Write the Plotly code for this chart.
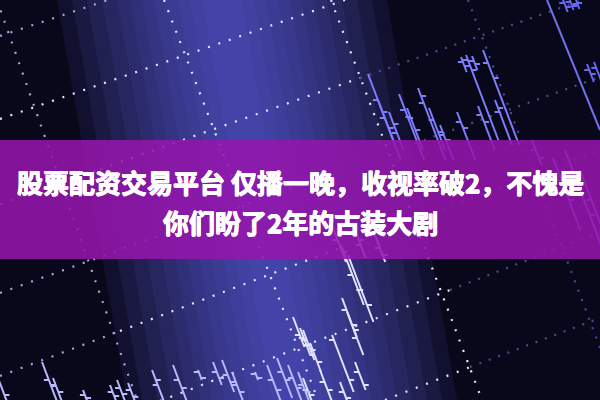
import plotly.graph_objects as go

# ---------------- data ----------------
# dotted perspective grid segments (x0, y0, x1, y1) in picture units
grid_bright = [(0, 119, 345, 0), (100, 169, 360, 78), (120, 331, 340, 248),
               (160, 401, 450, 290), (385, 400, 470, 367),
               (164, 0, 318, 400), (331, 0, 482, 400)]
grid_mid = [(0, 36, 108, 0), (0, 204, 100, 169), (0, 293, 330, 174),
            (0, 376, 120, 331), (-3, 0, 137, 400)]
grid_dim = [(360, 78, 580, 1), (330, 174, 600, 77), (340, 248, 600, 150),
            (450, 290, 600, 232), (470, 367, 600, 318), (468, 0, 620, 400)]

# candle groups: x at high end, high, low, open, close
up_x = [368, 378, 389, 399, 407, 418, 429, 440, 457, 461, 466, 472, 483, 478, 495, 532, 553, 565, 580]
up_high = [74, 100, 112, 94, 108, 88, 108, 125, 112, 57, 55, 56, 50, 106, 100, 140, 158, 150, 170]
up_low = [160, 160, 150, 160, 150, 160, 150, 160, 160, 72, 140, 70, 145, 150, 145, 165, 230, 255, 250]
up_open = [100, 118, 133, 110, 117, 103, 120, 135, 122, 62, 60, 61, 63, 115, 112, 150, 180, 190, 200]
up_close = [112, 128, 124, 118, 130, 96, 132, 140, 128, 66, 70, 64, 78, 122, 108, 158, 200, 215, 230]

corner_x = [562, 569, 576, 587, 594]
corner_high = [-3, -2, 0, 64, 62]
corner_low = [12, 10, 9, 82, 84]
corner_open = [3, 2, 4, 70, 68]
corner_close = [7, 6, 3, 74, 76]

mid_x = [341, 348, 342, 347, 293, 303, 310, 332, 355, 303, 340, 320, 330, 355, 375, 300]
mid_high = [245, 255, 298, 312, 317, 330, 343, 335, 362, 378, 382, 370, 220, 230, 235, 328]
mid_low = [305, 322, 337, 355, 347, 360, 372, 392, 390, 405, 405, 405, 262, 258, 262, 355]
mid_open = [275, 290, 310, 338, 335, 345, 355, 340, 372, 390, 392, 382, 240, 245, 248, 338]
mid_close = [290, 305, 325, 330, 340, 350, 362, 380, 385, 395, 398, 390, 252, 240, 255, 345]

low_x = [-2, 42, 53, 83, 110, 117, 128, 152, 173, 198, 213, 222, 232, 255, 267, 277, 288, 298]
low_high = [378, 362, 378, 390, 385, 380, 383, 370, 365, 370, 362, 360, 372, 372, 365, 358, 365, 372]
low_low = [402, 402, 402, 402, 402, 402, 402, 402, 402, 380, 385, 392, 402, 380, 402, 398, 402, 402]
low_open = [385, 380, 386, 395, 392, 388, 390, 385, 380, 372, 372, 375, 385, 374, 380, 372, 378, 385]
low_close = [395, 385, 392, 398, 396, 394, 397, 380, 388, 378, 378, 382, 392, 378, 390, 380, 388, 392]

solid_line = [(547, 0, 600, 130)]

title_1 = "股票配资交易平台 仅播一晚，收视率破2，不愧是"
title_2 = "你们盼了2年的古装大剧"

# ---------------- helpers ----------------
LEAN = 0.38


def seg_xy(segs):
    X, Y = [], []
    for x0, y0, x1, y1 in segs:
        X += [x0, x1, None]
        Y += [y0, y1, None]
    return X, Y


def candle_xy(xs, hi, lo, op, cl, tick=5):
    X, Y = [], []
    for x, h, l, o, c in zip(xs, hi, lo, op, cl):
        fx = lambda y: x + LEAN * (y - h)
        X += [fx(h), fx(l), None, fx(o) - tick, fx(o), None, fx(c), fx(c) + tick, None]
        Y += [h, l, None, o, o, None, c, c, None]
    return X, Y


fig = go.Figure()

for segs, col, dash in [(grid_dim, "#4a4a96", "2px,8px"),
                        (grid_mid, "#a4a4e0", "2px,9px"),
                        (grid_bright, "#e6e6ff", "2px,9px")]:
    X, Y = seg_xy(segs)
    fig.add_trace(go.Scatter(x=X, y=Y, mode="lines", hoverinfo="skip",
                             line=dict(color=col, width=2.2, dash=dash)))

X, Y = seg_xy(solid_line)
fig.add_trace(go.Scatter(x=X, y=Y, mode="lines", hoverinfo="skip",
                         line=dict(color="#7070e8", width=2)))

for data, col in [((up_x, up_high, up_low, up_open, up_close), "#7e7eff"),
                  ((corner_x, corner_high, corner_low, corner_open, corner_close), "#6868f0"),
                  ((mid_x, mid_high, mid_low, mid_open, mid_close), "#e2e2ff"),
                  ((low_x, low_high, low_low, low_open, low_close), "#b8b8ff")]:
    X, Y = candle_xy(*data)
    fig.add_trace(go.Scatter(x=X, y=Y, mode="lines", hoverinfo="skip",
                             line=dict(color=col, width=2)))

# ---------------- background glow ----------------
shapes = []
for w in [165, 150, 135, 120, 105, 92, 80, 68, 56, 44, 32, 20]:
    shapes.append(dict(type="path", layer="below", line_width=0,
                       fillcolor="rgba(90,90,215,0.11)",
                       path=f"M {222-w},0 L {222+w},0 L {292+w},400 L {292-w},400 Z",
                       xref="x", yref="y"))
# purple band
shapes.append(dict(type="rect", x0=0, x1=600, y0=140, y1=259, xref="x", yref="y",
                   line_width=0, fillcolor="rgba(148,22,172,0.88)", layer="above"))

fig.update_layout(
    width=600, height=400, margin=dict(l=0, r=0, t=0, b=0),
    paper_bgcolor="#08081a", plot_bgcolor="#08081a",
    showlegend=False, shapes=shapes,
    xaxis=dict(range=[0, 600], visible=False, fixedrange=True),
    yaxis=dict(range=[400, 0], visible=False, fixedrange=True),
)

faux_bold = "0.5px 0 0 #fff, -0.5px 0 0 #fff, 0 0.5px 0 #fff, 0 -0.5px 0 #fff"
for txt, y in [(title_1, 181), (title_2, 221)]:
    fig.add_annotation(x=300, y=y, xref="x", yref="y", text=txt, showarrow=False,
                       xanchor="center", yanchor="middle",
                       font=dict(family="Noto Sans CJK SC", size=26, color="white",
                                 weight="bold", shadow=faux_bold))

fig.write_html("out.html", config={"displayModeBar": False, "staticPlot": True},
               post_script="document.body.style.margin='0';document.body.style.background='#08081a';")
